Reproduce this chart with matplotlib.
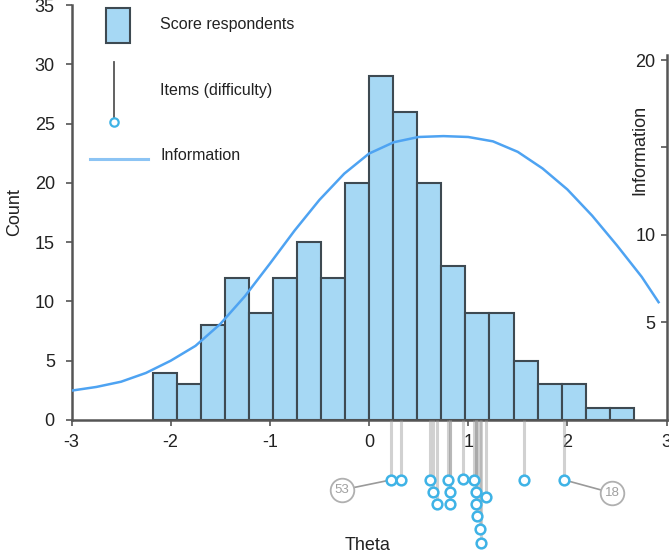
import numpy as np
import matplotlib
matplotlib.use("Agg")
import matplotlib.pyplot as plt
from matplotlib.lines import Line2D
from matplotlib.patches import Rectangle

plt.rcParams['font.family'] = ['Liberation Sans', 'DejaVu Sans']
plt.rcParams['axes.unicode_minus'] = False

# histogram of respondent scores (theta)
counts = [4, 3, 8, 12, 9, 12, 15, 12, 20, 29, 26, 20, 13, 9, 9, 5, 3, 3, 1, 1]
bin_lo, bin_hi = -2.18, 2.67

# test information curve
info_theta = [-3.0, -2.75, -2.5, -2.25, -2.0, -1.75, -1.5, -1.25, -1.0, -0.75,
              -0.5, -0.25, 0.0, 0.25, 0.5, 0.75, 1.0, 1.25, 1.5, 1.75,
              2.0, 2.25, 2.5, 2.75, 2.92]
info_value = [1.09, 1.3, 1.6, 2.1, 2.8, 3.65, 4.9, 6.5, 8.35, 10.25,
              12.0, 13.5, 14.65, 15.3, 15.6, 15.65, 15.6, 15.35, 14.75, 13.8,
              12.6, 11.1, 9.4, 7.6, 6.15]

# item difficulties and their dodge row below the axis
item_theta = [0.217, 0.318, 0.613, 0.647, 0.688, 0.795, 0.815, 0.815, 0.950,
              1.057, 1.074, 1.084, 1.091, 1.117, 1.131, 1.175, 1.568, 1.971]
item_row = [0, 0, 0, 0.94, 1.94, 0, 0.94, 1.94, -0.1,
            0, 0.94, 1.94, 2.94, 3.94, 5.06, 1.34, 0, 0]
item_tags = {0: "53", 17: "18"}

W, H = 669, 558
fig = plt.figure(figsize=(W / 100, H / 100), dpi=100)

L, R, T, B = 71.5, 666.5, 5, 420
ax = fig.add_axes([L / W, 1 - B / H, (R - L) / W, (B - T) / H])

bar_fill = "#a6d8f4"
bar_edge = "#3e4a52"
line_col = "#4ea3f2"
item_col = "#3fb3e6"
axis_col = "#555555"
txt_col = "#222222"

edges = np.linspace(bin_lo, bin_hi, len(counts) + 1)
ax.bar(edges[:-1], counts, width=np.diff(edges), align='edge',
       color=bar_fill, edgecolor=bar_edge, linewidth=1.5)
ax.set_xlim(-3, 3)
ax.set_ylim(0, 35)
ax.set_xticks([-3, -2, -1, 0, 1, 2, 3])
ax.set_yticks(range(0, 36, 5))
for s in ['top', 'right']:
    ax.spines[s].set_visible(False)
for s in ['left', 'bottom']:
    ax.spines[s].set_color(axis_col)
    ax.spines[s].set_linewidth(1.8)
ax.tick_params(colors=axis_col, labelcolor=txt_col, labelsize=13, length=4, width=1.2)
ax.tick_params(axis='y', pad=8)
ax.tick_params(axis='x', pad=6)
ax.set_ylabel("Count", fontsize=13, color=txt_col, labelpad=8)

# information on a second axis, drawn along the right edge
ax2 = ax.twinx()
ax2.plot(info_theta, info_value, color=line_col, linewidth=1.8)
ax2.set_ylim(-0.59, 23.15)
for s in ['top', 'right', 'bottom']:
    ax2.spines[s].set_visible(False)
ax2.spines['left'].set_position(('axes', 1.0))
ax2.spines['left'].set_bounds(-0.59, 20.3)
ax2.spines['left'].set_color(axis_col)
ax2.spines['left'].set_linewidth(1.8)
ax2.yaxis.tick_left()
ax2.set_yticks([5, 10, 15, 20])
ax2.set_yticklabels(["5", "10", "", "20"])
ax2.tick_params(colors=axis_col, labelcolor=txt_col, labelsize=13, length=4, width=1.2, pad=4)
fig.text(640 / W, 1 - 150 / H, "Information", rotation=90, ha='center', va='center',
         fontsize=13, color=txt_col)

# item strip under the axis
step = 12.4
top_row = -(480 - B) / step
axi = fig.add_axes([L / W, 0, (R - L) / W, (H - B) / H], zorder=5)
axi.patch.set_alpha(0)
axi.set_xlim(-3, 3)
axi.set_ylim((H - 480) / step, top_row)
axi.axis('off')
axi.vlines(item_theta, top_row, item_row, color="#9a9a9a", alpha=0.45, linewidth=2.2)
axi.plot(item_theta, item_row, 'o', markersize=7, markerfacecolor='white',
         markeredgecolor=item_col, markeredgewidth=1.8, linestyle='none', zorder=4)
tag_pos = {0: (-0.27, 0.8), 17: (2.453, 1.05)}
for i, tag in item_tags.items():
    tx, ty = tag_pos[i]
    axi.plot([tx, item_theta[i]], [ty, item_row[i]], color="#9a9a9a", linewidth=1.2, zorder=2)
    axi.plot(tx, ty, 'o', markersize=17, markerfacecolor='white',
             markeredgecolor="#b0b0b0", markeredgewidth=1.3, zorder=3)
    axi.text(tx, ty, tag, ha='center', va='center', fontsize=9.5, color="#a0a0a0", zorder=4)
fig.text(368 / W, 1 - 546 / H, "Theta", ha='center', va='center', fontsize=13, color=txt_col)

# legend, drawn by hand
def fx(x):
    return x / W

def fy(y):
    return 1 - y / H

fig.add_artist(Rectangle((fx(106), fy(43)), fx(130) - fx(106), fy(8) - fy(43),
                         transform=fig.transFigure, facecolor=bar_fill,
                         edgecolor=bar_edge, linewidth=1.5))
fig.add_artist(Line2D([fx(114), fx(114)], [fy(62), fy(118)], transform=fig.transFigure,
                      color="#555555", linewidth=1.3))
fig.add_artist(Line2D([fx(114)], [fy(121.5)], transform=fig.transFigure, marker='o',
                      markersize=6, markerfacecolor='white', markeredgecolor=item_col,
                      markeredgewidth=1.6))
fig.add_artist(Line2D([fx(90), fx(148)], [fy(159), fy(159)], transform=fig.transFigure,
                      color="#8cc4f4", linewidth=2.2))
fig.text(fx(160), fy(25), "Score respondents", va='center', fontsize=11.5, color=txt_col)
fig.text(fx(160), fy(90), "Items (difficulty)", va='center', fontsize=11.5, color=txt_col)
fig.text(fx(160), fy(155), "Information", va='center', fontsize=11.5, color=txt_col)

fig.savefig("out.png", dpi=100)
